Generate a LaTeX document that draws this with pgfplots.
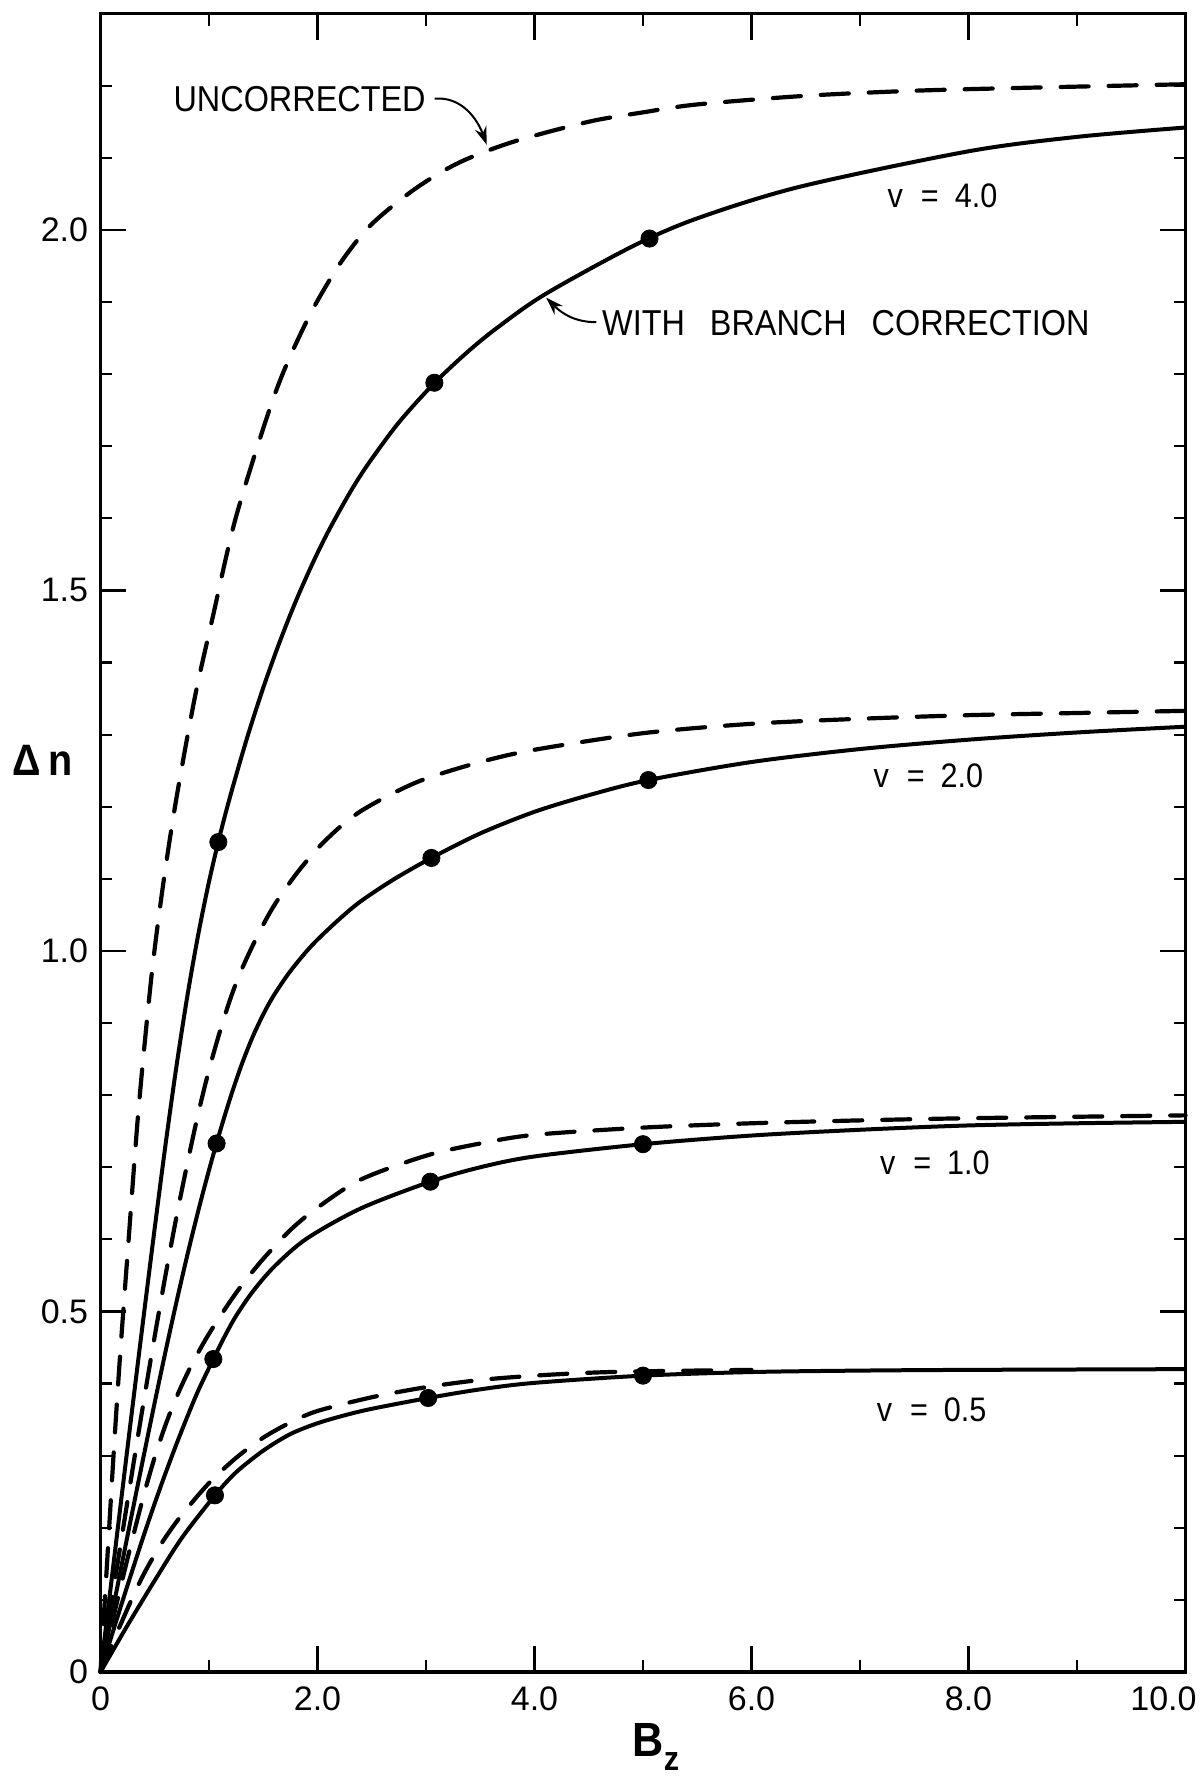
\documentclass[border=0pt]{standalone}
\usepackage{fontspec}
\setmainfont{Liberation Sans}[FakeStretch=0.9]
\newfontfamily\tickfont{Liberation Sans}
\usepackage{pgfplots}
\pgfplotsset{compat=1.18}
\usetikzlibrary{arrows.meta}
\begin{document}
\begin{tikzpicture}
\useasboundingbox (-50.25pt,-52.5pt) rectangle (550.75pt,836pt);
\begin{axis}[
  at={(0,0)}, anchor=south west,
  scale only axis, width=542.5pt, height=829.2pt,
  xmin=0, xmax=10, ymin=0, ymax=2.3,
  clip=false,
  axis line style={line width=1.6pt},
  xtick={0,2,4,6,8,10}, xticklabels={0,2.0,4.0,6.0,8.0,10.0\hspace*{22pt}},
  minor xtick={1,3,5,7,9},
  ytick={0,0.5,1,1.5,2}, yticklabels={0,0.5,1.0,1.5,2.0},
  minor ytick={0.1,0.2,0.3,0.4,0.6,0.7,0.8,0.9,1.1,1.2,1.3,1.4,1.6,1.7,1.8,1.9,2.1,2.2},
  tick align=inside,
  major tick length=13pt, minor tick length=6pt,
  every tick/.style={line width=1.1pt, black},
  tick label style={font=\tickfont\fontsize{17}{17}\selectfont, inner sep=0pt},
  xticklabel style={yshift=-7pt},
  yticklabel style={xshift=-6pt},
  solidc/.style={line width=2pt, smooth, no markers},
  dashc/.style={line width=2.1pt, smooth, no markers, line cap=round, dash pattern=on 14pt off 10pt},
]
% v = 4.0 uncorrected
\addplot[dashc] coordinates {(0,0) (0.06,0.15) (0.12,0.30) (0.18,0.438) (0.256,0.593) (0.35,0.779) (0.47,0.965) (0.58,1.095) (0.70,1.212) (0.87,1.352) (1.03,1.46) (1.24,1.597) (1.52,1.734) (1.70,1.808) (1.95,1.888) (2.22,1.956) (2.50,2.008) (2.90,2.057) (3.30,2.093) (3.80,2.122) (4.50,2.150) (5.0,2.163) (5.5,2.174) (6.5,2.186) (7.5,2.193) (8.5,2.197) (10,2.202)};
% v = 4.0 corrected
\addplot[solidc] coordinates {(0,0) (0.1,0.125) (0.2,0.25) (0.3,0.374) (0.4,0.496) (0.5,0.616) (0.6,0.732) (0.7,0.840) (0.8,0.937) (0.9,1.022) (1.0,1.096) (1.1,1.16) (1.2,1.217) (1.35,1.295) (1.5,1.365) (1.65,1.428) (1.8,1.485) (1.95,1.536) (2.1,1.582) (2.3,1.636) (2.47,1.676) (2.75,1.733) (3.08,1.788) (3.4,1.833) (3.68,1.867) (4.1,1.911) (4.9,1.977) (5.5,2.016) (6.45,2.06) (8.0,2.109) (9.0,2.129) (10,2.142)};
% v = 2.0 uncorrected
\addplot[dashc] coordinates {(0,0) (0.1,0.096) (0.2,0.191) (0.3,0.285) (0.4,0.377) (0.5,0.466) (0.6,0.551) (0.7,0.631) (0.8,0.705) (0.9,0.774) (1.0,0.835) (1.1,0.888) (1.2,0.935) (1.3,0.974) (1.45,1.022) (1.6,1.063) (1.8,1.106) (2.0,1.142) (2.2,1.171) (2.4,1.194) (2.7,1.219) (3.0,1.239) (3.5,1.262) (4.0,1.279) (5.0,1.302) (6.0,1.315) (7,1.322) (8,1.327) (9,1.330) (10,1.333)};
% v = 2.0 corrected
\addplot[solidc] coordinates {(0,0) (0.1,0.076) (0.2,0.152) (0.3,0.227) (0.4,0.301) (0.5,0.374) (0.6,0.445) (0.7,0.513) (0.8,0.578) (0.9,0.639) (1.0,0.696) (1.1,0.749) (1.2,0.798) (1.3,0.842) (1.4,0.88) (1.5,0.912) (1.6,0.939) (1.75,0.972) (1.95,1.008) (2.2,1.044) (2.4,1.069) (2.7,1.099) (3.05,1.129) (3.5,1.163) (4.0,1.193) (4.5,1.216) (5.05,1.237) (6.0,1.262) (7,1.28) (8,1.293) (9,1.303) (10,1.311)};
% v = 1.0 uncorrected
\addplot[dashc] coordinates {(0,0) (0.1,0.064) (0.2,0.127) (0.3,0.188) (0.4,0.246) (0.5,0.298) (0.6,0.343) (0.7,0.381) (0.8,0.414) (0.9,0.443) (1.0,0.469) (1.15,0.504) (1.3,0.536) (1.5,0.573) (1.75,0.613) (2.0,0.644) (2.4,0.683) (3.0,0.716) (3.5,0.733) (4.0,0.745) (5.0,0.755) (6.0,0.761) (7,0.765) (8,0.768) (10,0.772)};
% v = 1.0 corrected
\addplot[solidc] coordinates {(0,0) (0.1,0.049) (0.2,0.097) (0.3,0.144) (0.4,0.19) (0.5,0.234) (0.6,0.276) (0.7,0.316) (0.8,0.354) (0.9,0.39) (1.04,0.434) (1.15,0.467) (1.25,0.494) (1.4,0.527) (1.6,0.562) (1.9,0.601) (2.4,0.643) (3.04,0.680) (3.5,0.700) (4.0,0.715) (5.0,0.732) (6.0,0.744) (7,0.752) (8,0.758) (9,0.761) (10,0.763)};
% v = 0.5 uncorrected
\addplot[dashc] coordinates {(0,0) (0.1,0.036) (0.2,0.071) (0.3,0.105) (0.4,0.136) (0.5,0.163) (0.6,0.187) (0.75,0.218) (1.0,0.262) (1.25,0.297) (1.5,0.325) (1.75,0.346) (2.0,0.362) (2.5,0.381) (3.0,0.395) (3.5,0.405) (4.0,0.411) (4.5,0.415) (5.0,0.417) (6.0,0.419)};
% v = 0.5 corrected
\addplot[solidc] coordinates {(0,0) (0.1,0.026) (0.25,0.065) (0.5,0.127) (0.75,0.186) (1.055,0.245) (1.25,0.277) (1.5,0.307) (1.75,0.330) (2.0,0.345) (2.25,0.356) (2.5,0.365) (3.02,0.380) (3.5,0.392) (4.0,0.401) (5.0,0.411) (6.0,0.416) (7,0.418) (8,0.419) (10,0.42)};
% computed points
\addplot[only marks, mark=*, mark size=4.3pt] coordinates {(1.086,1.151) (3.077,1.788) (5.06,1.988) (1.07,0.733) (3.05,1.129) (5.05,1.237) (1.04,0.434) (3.04,0.680) (5.0,0.732) (1.055,0.245) (3.02,0.380) (5.0,0.411)};
% annotations
\node[font=\fontsize{18}{18}\selectfont, anchor=west, inner sep=0pt] at (axis cs:0.67,2.182) {UNCORRECTED};
\draw[line width=1pt, -{Stealth[length=9pt,width=6pt]}] (axis cs:3.08,2.182) to[out=5,in=110] (axis cs:3.56,2.118);
\node[font=\fontsize{18}{18}\selectfont, anchor=west, inner sep=0pt] at (axis cs:4.62,1.871) {WITH\hspace{12.5pt}BRANCH\hspace{12.5pt}CORRECTION};
\draw[line width=1pt, -{Stealth[length=9pt,width=6pt]}] (axis cs:4.57,1.872) to[out=180,in=-45] (axis cs:4.107,1.906);
\node[font=\fontsize{17}{17}\selectfont] at (axis cs:7.76,2.047) {v\hspace{9pt}=\hspace{8pt}4.0};
\node[font=\fontsize{17}{17}\selectfont] at (axis cs:7.63,1.243) {v\hspace{9pt}=\hspace{8pt}2.0};
\node[font=\fontsize{17}{17}\selectfont] at (axis cs:7.69,0.706) {v\hspace{9pt}=\hspace{8pt}1.0};
\node[font=\fontsize{17}{17}\selectfont] at (axis cs:7.66,0.363) {v\hspace{9pt}=\hspace{8pt}0.5};
\node[font=\bfseries\fontsize{22}{22}\selectfont, inner sep=0pt, xshift=-29pt] at (rel axis cs:0,0.5496) {Δ\,n};
\node[font=\bfseries\fontsize{24}{24}\selectfont, anchor=base west, inner sep=0pt, yshift=-42pt] at (axis cs:4.9,0) {B\raisebox{-0.3em}{\fontsize{17}{17}\selectfont z}};
\end{axis}
\end{tikzpicture}
\end{document}
